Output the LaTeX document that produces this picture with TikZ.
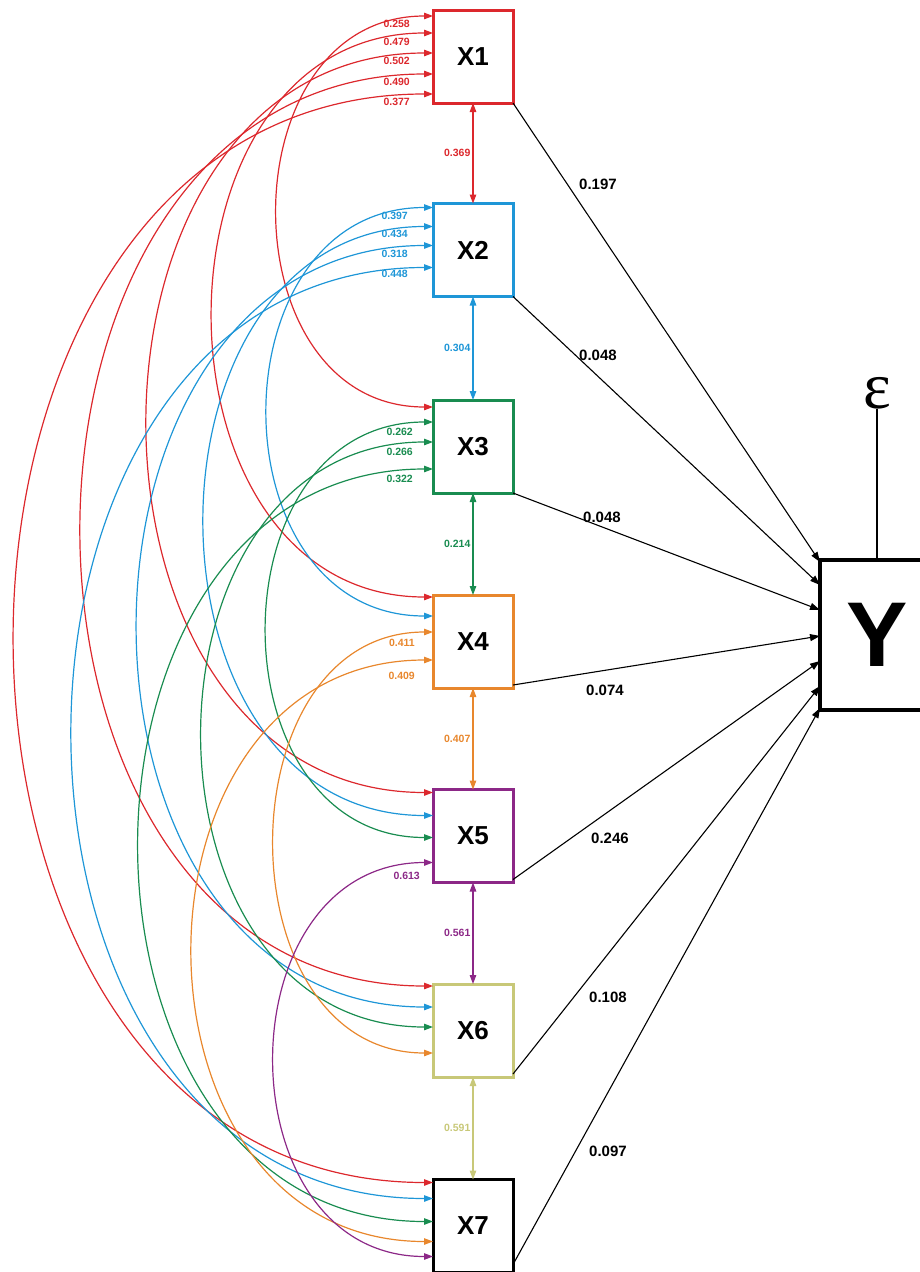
\documentclass[tikz,border=0pt]{standalone}
\usepackage{fontspec}
\setmainfont{Liberation Sans}
\newfontfamily\epsfont{Liberation Serif}
\usetikzlibrary{arrows.meta,calc}
\definecolor{cred}{RGB}{220,40,45}
\definecolor{cblue}{RGB}{30,150,215}
\definecolor{cgreen}{RGB}{25,140,80}
\definecolor{corange}{RGB}{232,135,45}
\definecolor{cpurple}{RGB}{140,40,135}
\definecolor{colive}{RGB}{200,200,120}
\begin{document}
\begin{tikzpicture}[x=1pt,y=-1pt,
  xbox/.style={draw=#1, line width=3pt, minimum width=80pt, minimum height=93pt, inner sep=0pt, outer sep=0pt, fill=white, text=black, font=\bfseries\fontsize{26}{26}\selectfont},
  corr/.style={line width=1.2pt, {Triangle[length=9pt,width=6.5pt]}-{Triangle[length=9pt,width=6.5pt]}},
  clab/.style={font=\bfseries\fontsize{10.5}{10.5}\selectfont, inner sep=0pt, anchor=east},
  reg/.style={line width=1.1pt, -{Triangle[length=10pt,width=7pt]}},
  rlab/.style={font=\bfseries\fontsize{15}{15}\selectfont, inner sep=0pt}]
\useasboundingbox (0,0) rectangle (919,1272);

% boxes
\node[xbox=cred]    (X1) at (473,56.5)  {X1};
\node[xbox=cblue]   (X2) at (473,250)   {X2};
\node[xbox=cgreen]  (X3) at (473,446.5) {X3};
\node[xbox=corange] (X4) at (473,641.5) {X4};
\node[xbox=cpurple] (X5) at (473,836)   {X5};
\node[xbox=colive]  (X6) at (473,1030.5){X6};
\node[xbox=black]   (X7) at (473,1226)  {X7};
\node[draw, line width=4pt, minimum width=114pt, minimum height=150pt, inner sep=0pt, outer sep=0pt,
      font=\bfseries\fontsize{92}{92}\selectfont] (Y) at (877,635) {Y};
\node[inner sep=0pt, font=\epsfont\fontsize{66}{66}\selectfont] (eps) at (877,393) {ε};
\draw[line width=1.1pt] (eps.south) -- (eps.south |- Y.north);

% arc endpoints
\foreach \n/\o in {13/6,14/23,15/43,16/64,17/84}{\coordinate (s\n) at ([yshift=-\o pt]X1.north west);}
\foreach \n/\o in {24/4,25/23,26/42,27/64}{\coordinate (s\n) at ([yshift=-\o pt]X2.north west);}
\foreach \n/\o in {35/22,36/42,37/69}{\coordinate (s\n) at ([yshift=-\o pt]X3.north west);}
\foreach \n/\o in {46/37,47/65}{\coordinate (s\n) at ([yshift=-\o pt]X4.north west);}
\foreach \n/\o in {57/73}{\coordinate (s\n) at ([yshift=-\o pt]X5.north west);}
\coordinate (e13) at ([yshift=-7pt]X3.north west);
\foreach \n/\o in {14/2,24/21}{\coordinate (e\n) at ([yshift=-\o pt]X4.north west);}
\foreach \n/\o in {15/3,25/26,35/48}{\coordinate (e\n) at ([yshift=-\o pt]X5.north west);}
\foreach \n/\o in {16/2,26/23,36/43,46/69}{\coordinate (e\n) at ([yshift=-\o pt]X6.north west);}
\foreach \n/\o in {17/3,27/19,37/42,47/62,57/77}{\coordinate (e\n) at ([yshift=-\o pt]X7.north west);}

% correlation arcs
\foreach \n/\k/\c in {13/207/cred,14/293/cred,15/380/cred,16/468/cred,17/557/cred,
                      24/220/cblue,25/304/cblue,26/393/cblue,27/480/cblue,
                      35/221/cgreen,36/307/cgreen,37/391/cgreen,
                      46/211/corange,47/320/corange,57/211/cpurple}{
  \draw[corr, color=\c] (s\n) .. controls +(-\k,0) and +(-\k,0) .. (e\n);
}

% arc labels
\foreach \n/\v/\dy in {13/0.258/8,14/0.479/9,15/0.502/8,16/0.490/8,17/0.377/8}{
  \node[clab, text=cred] at ([xshift=-23pt,yshift=-\dy pt]s\n) {\v};}
\foreach \n/\v/\dy in {24/0.397/8,25/0.434/7,26/0.318/8,27/0.448/6}{
  \node[clab, text=cblue] at ([xshift=-25pt,yshift=-\dy pt]s\n) {\v};}
\foreach \n/\v/\dy in {35/0.262/10,36/0.266/10,37/0.322/10}{
  \node[clab, text=cgreen] at ([xshift=-20pt,yshift=-\dy pt]s\n) {\v};}
\foreach \n/\v/\dy in {46/0.411/11,47/0.409/16}{
  \node[clab, text=corange] at ([xshift=-18pt,yshift=-\dy pt]s\n) {\v};}
\node[clab, text=cpurple] at ([xshift=-13pt,yshift=-13pt]s57) {0.613};

% adjacent correlations
\draw[corr, color=cred]    (X1.south) -- (X2.north) node[midway, clab, xshift=-2pt] {0.369};
\draw[corr, color=cblue]   (X2.south) -- (X3.north) node[midway, clab, xshift=-2pt] {0.304};
\draw[corr, color=cgreen]  (X3.south) -- (X4.north) node[midway, clab, xshift=-2pt] {0.214};
\draw[corr, color=corange] (X4.south) -- (X5.north) node[midway, clab, xshift=-2pt] {0.407};
\draw[corr, color=cpurple] (X5.south) -- (X6.north) node[midway, clab, xshift=-2pt] {0.561};
\draw[corr, color=colive]  (X6.south) -- (X7.north) node[midway, clab, xshift=-2pt] {0.591};

% regression paths
\foreach \i/\o in {1/2,2/25,3/50,4/76,5/101,6/126,7/148}{
  \coordinate (y\i) at ([yshift=-\o pt]Y.north west);}
\draw[reg] (X1.south east) -- (y1);
\draw[reg] (X2.south east) -- (y2);
\draw[reg] (X3.south east) -- (y3);
\draw[reg] ([yshift=3pt]X4.south east) -- (y4);
\draw[reg] ([yshift=3pt]X5.south east) -- (y5);
\draw[reg] ([yshift=3pt]X6.south east) -- (y6);
\draw[reg] ([yshift=8pt]X7.south east) -- (y7);
\node[rlab] (r1) at (598,184) {0.197};
\node[rlab] (r2) at (598,355) {0.048};
\node[rlab] (r3) at (602,517) {0.048};
\node[rlab] (r4) at (605,690) {0.074};
\node[rlab] (r5) at (610,838) {0.246};
\node[rlab] (r6) at (608,997) {0.108};
\node[rlab] (r7) at (608,1151) {0.097};
\end{tikzpicture}
\end{document}
